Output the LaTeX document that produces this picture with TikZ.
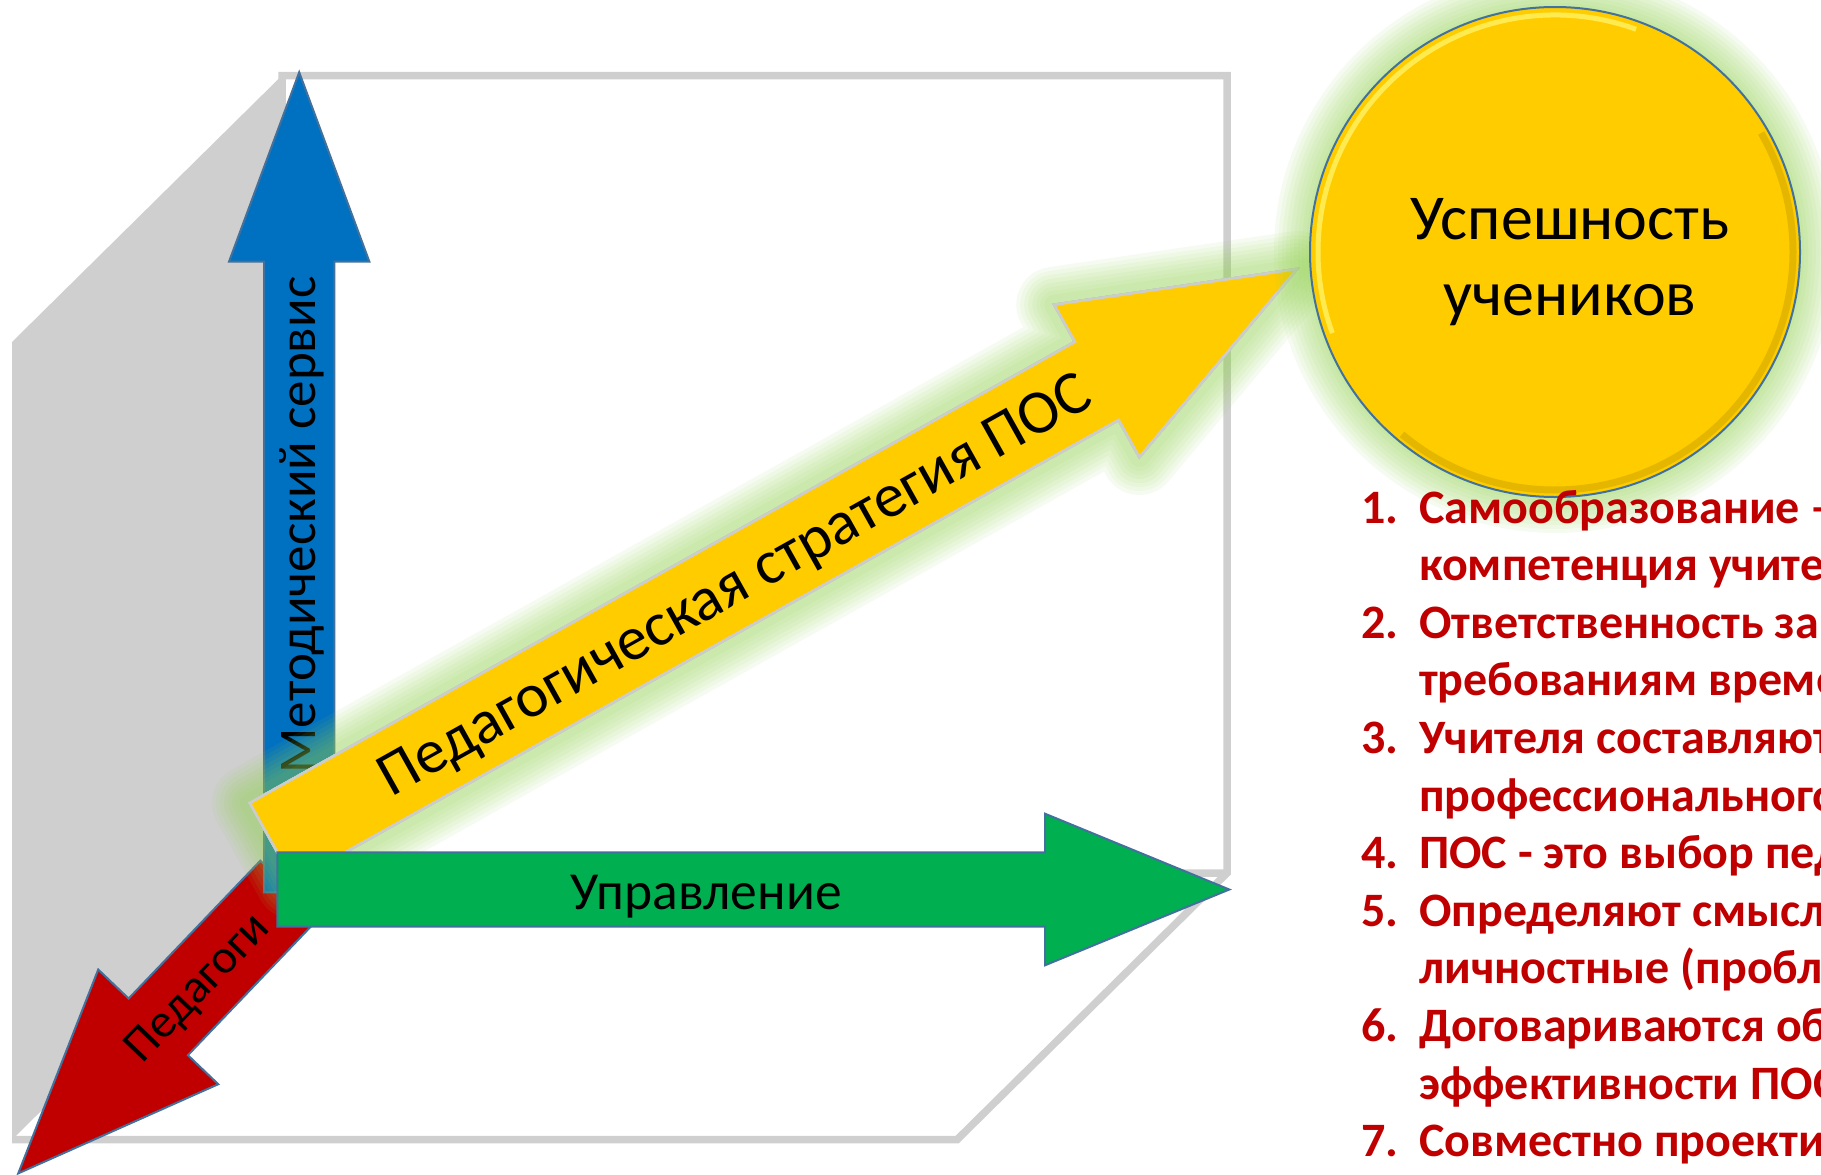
\documentclass[tikz,border=0pt]{standalone}
\usepackage{fontspec}
\setmainfont{Carlito}
\usetikzlibrary{calc}

\definecolor{axisblue}{HTML}{0070C0}
\definecolor{axisgreen}{HTML}{00B050}
\definecolor{axisred}{HTML}{C00000}
\definecolor{axisyellow}{HTML}{FFCC00}
\definecolor{framegray}{HTML}{CFCFCF}
\definecolor{edgeblue}{HTML}{41719C}
\definecolor{glow}{HTML}{92D050}
\definecolor{listred}{HTML}{C00000}

% fat arrow: style, start, angle, length, shaft half width, head half width, head length
\newcommand{\fatarrow}[7]{%
  \begin{scope}[shift={#2}, rotate=#3]
    \path[#1] (0,-#5) -- ({#4-#7},-#5) -- ({#4-#7},-#6) -- (#4,0)
      -- ({#4-#7},#6) -- ({#4-#7},#5) -- (0,#5) -- cycle;
  \end{scope}}

\begin{document}
\begin{tikzpicture}[x=1pt, y=-1pt,
  frame/.style={draw=framegray, line width=7.5},
  axis/.style={draw=edgeblue, line width=2},
  axislabel/.style={font=\fontsize{#1}{#1}\selectfont, inner sep=0},
  listline/.style={font=\bfseries\fontsize{48}{57.6}\selectfont, text=listred, inner sep=0, anchor=base west}]
\useasboundingbox (0,0) rectangle (1821,1175);
\clip (0,0) rectangle (1821,1175);

% box
\fill[framegray] (12,342) -- (282,75.5) -- (282,873) -- (12,1139.7) -- cycle;
\draw[frame] (12,1139.7) -- (957,1139.7) -- (1227,873) -- (1227,75.5) -- (282,75.5) -- (282,873) -- (1227,873);

% axes
\fatarrow{fill=axisred, axis}{(290,889)}{226.3}{393.4}{41}{83}{202.7}
\node[axislabel=48, rotate=46.3] (ped) at (199,989) {Педагоги};
\fatarrow{fill=axisblue, axis}{(299.2,892.3)}{90}{820}{35.2}{70.2}{189.4}
\node[axislabel=53, rotate=90] (metod) at (302,525) {Методический сервис};
\foreach \g in {76,68,60,52,44,36,28,20}
  \fatarrow{draw=glow, line width=\g, opacity=0.08, line join=round}{(271.7,842)}{29.2}{1174.5}{44.7}{87.2}{229.2}
\fatarrow{fill=axisyellow, draw=gray!40, line width=2.5}{(271.7,842)}{29.2}{1174.5}{44.7}{87.2}{229.2}
\node[axislabel=62, rotate=29.2] (strat) at (736,588) {Педагогическая стратегия ПОС};
\fatarrow{fill=axisgreen, axis}{(277.3,889.5)}{0}{952}{37.2}{75.8}{184.3}
\node[axislabel=53.5] (upr) at (706,897) {Управление};

% goal
\foreach \g in {36,32,28,24,20,16,12,8,4}
  \fill[glow, opacity=0.08] (1555,252) circle (245+\g);
\node[circle, minimum size=490, fill=axisyellow, draw=edgeblue, line width=2] (success) at (1555,252) {};
\draw[yellow!55!white, line width=5, opacity=0.7] ([shift={(-70:237)}]success.center) arc[start angle=-70, end angle=-200, radius=237];
\draw[axisyellow!65!black, line width=7, opacity=0.3] ([shift={(-230:238)}]success.center) arc[start angle=-230, end angle=-390, radius=238];
\node[font=\fontsize{64}{76}\selectfont, align=center, inner sep=0] (successtext) at (1570,262) {Успешность\\учеников};

% list
\foreach \n/\i in {1/0, 2/2, 3/4, 4/6, 5/7, 6/9, 7/11}
  \node[listline] (num\n) at (1361,{523+57.6*\i}) {\n.};
\foreach \i/\t in {0/Самообразование –, 1/компетенция учите, 2/Ответственность за,
    3/требованиям време, 4/Учителя составляют, 5/профессионального,
    6/ПОС - это выбор пед, 7/Определяют смысл, 8/личностные (пробл,
    9/Договариваются об, 10/эффективности ПОС, 11/Совместно проекти}
  \node[listline] (line\i) at (1419,{523+57.6*\i}) {\t};
\end{tikzpicture}
\end{document}
